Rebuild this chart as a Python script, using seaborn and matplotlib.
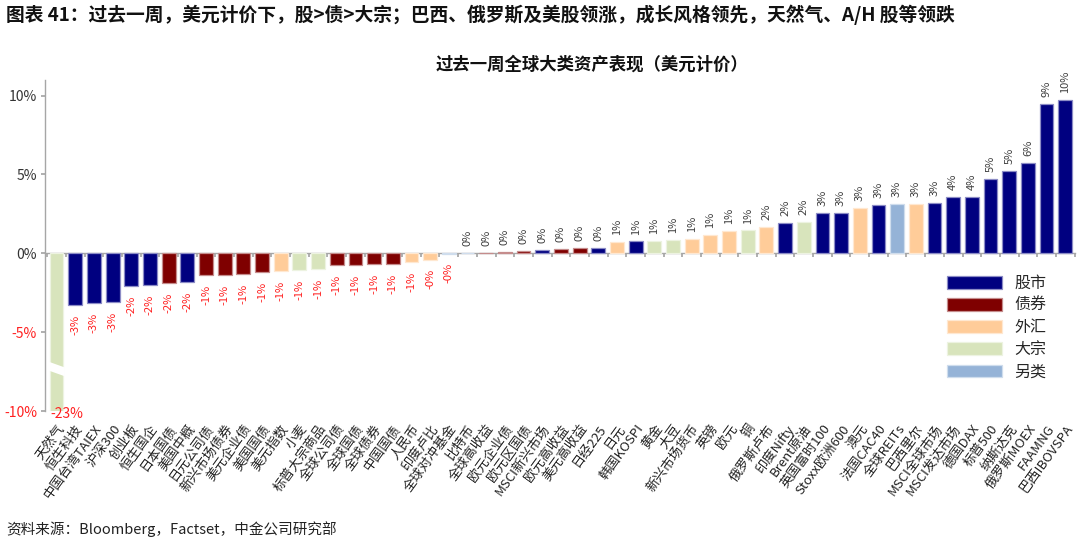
import matplotlib
matplotlib.use('Agg')
import matplotlib.pyplot as plt
import seaborn as sns
import pandas as pd
import numpy as np
from matplotlib.patches import Polygon, Patch
from matplotlib.colors import to_rgb

# ---------------- data ----------------
names = ['天然气', '恒生科技', '中国台湾TAIEX', '沪深300', '创业板', '恒生国企', '日本国债', '美国中概',
         '日元公司债', '新兴市场债券', '美元企业债', '美国国债', '美元指数', '小麦', '标普大宗商品',
         '全球公司债', '全球国债', '全球债券', '中国国债', '人民币', '印度卢比', '全球对冲基金', '比特币',
         '全球高收益', '欧元企业债', '欧元区国债', 'MSCI新兴市场', '欧元高收益', '美元高收益', '日经225',
         '日元', '韩国KOSPI', '黄金', '大豆', '新兴市场货币', '英镑', '欧元', '铜', '俄罗斯卢布',
         '印度Nifty', 'Brent原油', '英国富时100', 'Stoxx欧洲600', '澳元', '法国CAC40', '全球REITs',
         '巴西里尔', 'MSCI全球市场', 'MSCI发达市场', '德国DAX', '标普500', '纳斯达克', '俄罗斯MOEX',
         'FAAMNG', '巴西IBOVSPA']
values = [-23.0, -3.3, -3.15, -3.1, -2.1, -2.0, -1.9, -1.8,
          -1.4, -1.4, -1.3, -1.2, -1.15, -1.05, -1.0,
          -0.75, -0.75, -0.7, -0.7, -0.55, -0.4, -0.02, 0.01,
          0.05, 0.1, 0.12, 0.2, 0.3, 0.35, 0.35,
          0.7, 0.75, 0.8, 0.85, 0.9, 1.15, 1.4, 1.45, 1.65,
          1.95, 2.0, 2.55, 2.55, 2.9, 3.05, 3.1,
          3.15, 3.2, 3.6, 3.6, 4.7, 5.2, 5.75,
          9.45, 9.7]
classes = ['大宗', '股市', '股市', '股市', '股市', '股市', '债券', '股市',
           '债券', '债券', '债券', '债券', '外汇', '大宗', '大宗',
           '债券', '债券', '债券', '债券', '外汇', '外汇', '另类', '另类',
           '债券', '债券', '债券', '股市', '债券', '债券', '股市',
           '外汇', '股市', '大宗', '大宗', '外汇', '外汇', '外汇', '大宗', '外汇',
           '股市', '大宗', '股市', '股市', '外汇', '股市', '另类',
           '外汇', '股市', '股市', '股市', '股市', '股市', '股市',
           '股市', '股市']
legend_order = ['股市', '债券', '外汇', '大宗', '另类']
palette = {'股市': '#000080', '债券': '#7F0000', '外汇': '#FFCC99', '大宗': '#D8E4BC', '另类': '#95B3D7'}
yticks = [-10, -5, 0, 5, 10]

title_main = '图表 41：过去一周，美元计价下，股>债>大宗；巴西、俄罗斯及美股领涨，成长风格领先，天然气、A/H 股等领跌'
title_chart = '过去一周全球大类资产表现（美元计价）'
source = '资料来源：Bloomberg，Factset，中金公司研究部'

# ---------------- style ----------------
sns.set_theme(style='white')
plt.rcParams['font.family'] = ['Noto Sans CJK SC', 'DejaVu Sans']
plt.rcParams['axes.unicode_minus'] = False

fig = plt.figure(figsize=(10.8, 5.43), dpi=100)
ax = fig.add_axes([0.042, 0.243, 0.953, 0.610])

df = pd.DataFrame({'name': names, 'value': values, 'cls': classes})
sns.barplot(data=df, x='name', y='value', hue='cls', hue_order=legend_order,
            palette=palette, dodge=False, width=0.74, ax=ax, legend=False,
            saturation=1, linewidth=0.9)

for p in ax.patches:
    fc = np.array(to_rgb(p.get_facecolor()))
    p.set_edgecolor(tuple(fc * 0.45 + np.ones(3) * 0.55))

ymin, ymax = -10, 11
ax.set_ylim(ymin, ymax)
ax.set_xlim(-0.6, len(names) - 0.5)

# axis break on the clipped bar
i0 = int(np.argmin(values))
brk_y, brk_h, brk_s = -6.86, 0.56, 0.38
poly = Polygon([(i0 - 0.45, brk_y), (i0 + 0.45, brk_y - brk_s),
                (i0 + 0.45, brk_y - brk_s - brk_h), (i0 - 0.45, brk_y - brk_h)],
               closed=True, facecolor='white', edgecolor='none', zorder=5)
ax.add_patch(poly)

# value labels
for i, v in enumerate(values):
    lab = f'{v:.0f}%'
    if v < ymin:
        ax.annotate(f'{v:.0f}%', (i, ymin), xytext=(7.5, -2), textcoords='offset points',
                    ha='center', va='center', color='#FF2020', fontsize=10, zorder=6,
                    annotation_clip=False)
    elif v < 0:
        if abs(v) < 0.5:
            lab = '-0%'
        ax.annotate(lab, (i, v), xytext=(0, -7), textcoords='offset points',
                    ha='center', va='top', rotation=90, color='#FF2020', fontsize=8)
    else:
        ax.annotate(lab, (i, v), xytext=(0, 5), textcoords='offset points',
                    ha='center', va='bottom', rotation=90, color='#404040', fontsize=8)

# axes styling
for s in ['top', 'right', 'bottom']:
    ax.spines[s].set_visible(False)
ax.spines['left'].set_color('#A6A6A6')
ax.spines['left'].set_linewidth(1)

ax.set_yticks(yticks)
ax.set_yticklabels([f'{t}%' for t in yticks], fontsize=10)
for t, lbl in zip(yticks, ax.get_yticklabels()):
    lbl.set_color('#FF2020' if t < 0 else '#333333')
ax.tick_params(axis='y', length=3, color='#A6A6A6', pad=3, left=True)

ax.set_xlabel('')
ax.set_ylabel('')
ax.set_xticks(range(len(names)))
ax.set_xticklabels(names, rotation=54, ha='right', rotation_mode='anchor',
                   fontsize=9.5, color='#222222')
ax.tick_params(axis='x', length=0, pad=8, bottom=True)

# zero axis line with category ticks
loc0 = (0 - ymin) / (ymax - ymin)
sec = ax.secondary_xaxis(loc0)
sec.set_xticks(np.arange(len(names) + 1) - 0.5)
sec.set_xticklabels([])
sec.tick_params(axis='x', length=3, color='#A6A6A6', direction='out')
sec.spines['bottom'].set_color('#A6A6A6')
sec.spines['bottom'].set_linewidth(1)

# legend
handles = [Patch(facecolor=palette[c],
                 edgecolor=tuple(np.array(to_rgb(palette[c])) * 0.45 + 0.55), linewidth=0.9)
           for c in legend_order]
fig.legend(handles, legend_order, loc='upper left', bbox_to_anchor=(0.864, 0.52),
           frameon=False, fontsize=11.5, handlelength=3.4, handleheight=0.85,
           labelspacing=0.32, handletextpad=0.8)

# titles and source
fig.text(0.006, 0.972, title_main, fontsize=13.5, fontweight='bold', va='center', ha='left',
         color='#111111')
fig.text(0.548, 0.881, title_chart, fontsize=12.5, fontweight='bold', va='center', ha='center',
         color='#111111')
fig.text(0.006, 0.025, source, fontsize=10.5, va='center', ha='left', color='#222222')

fig.savefig('out.png', dpi=100)
